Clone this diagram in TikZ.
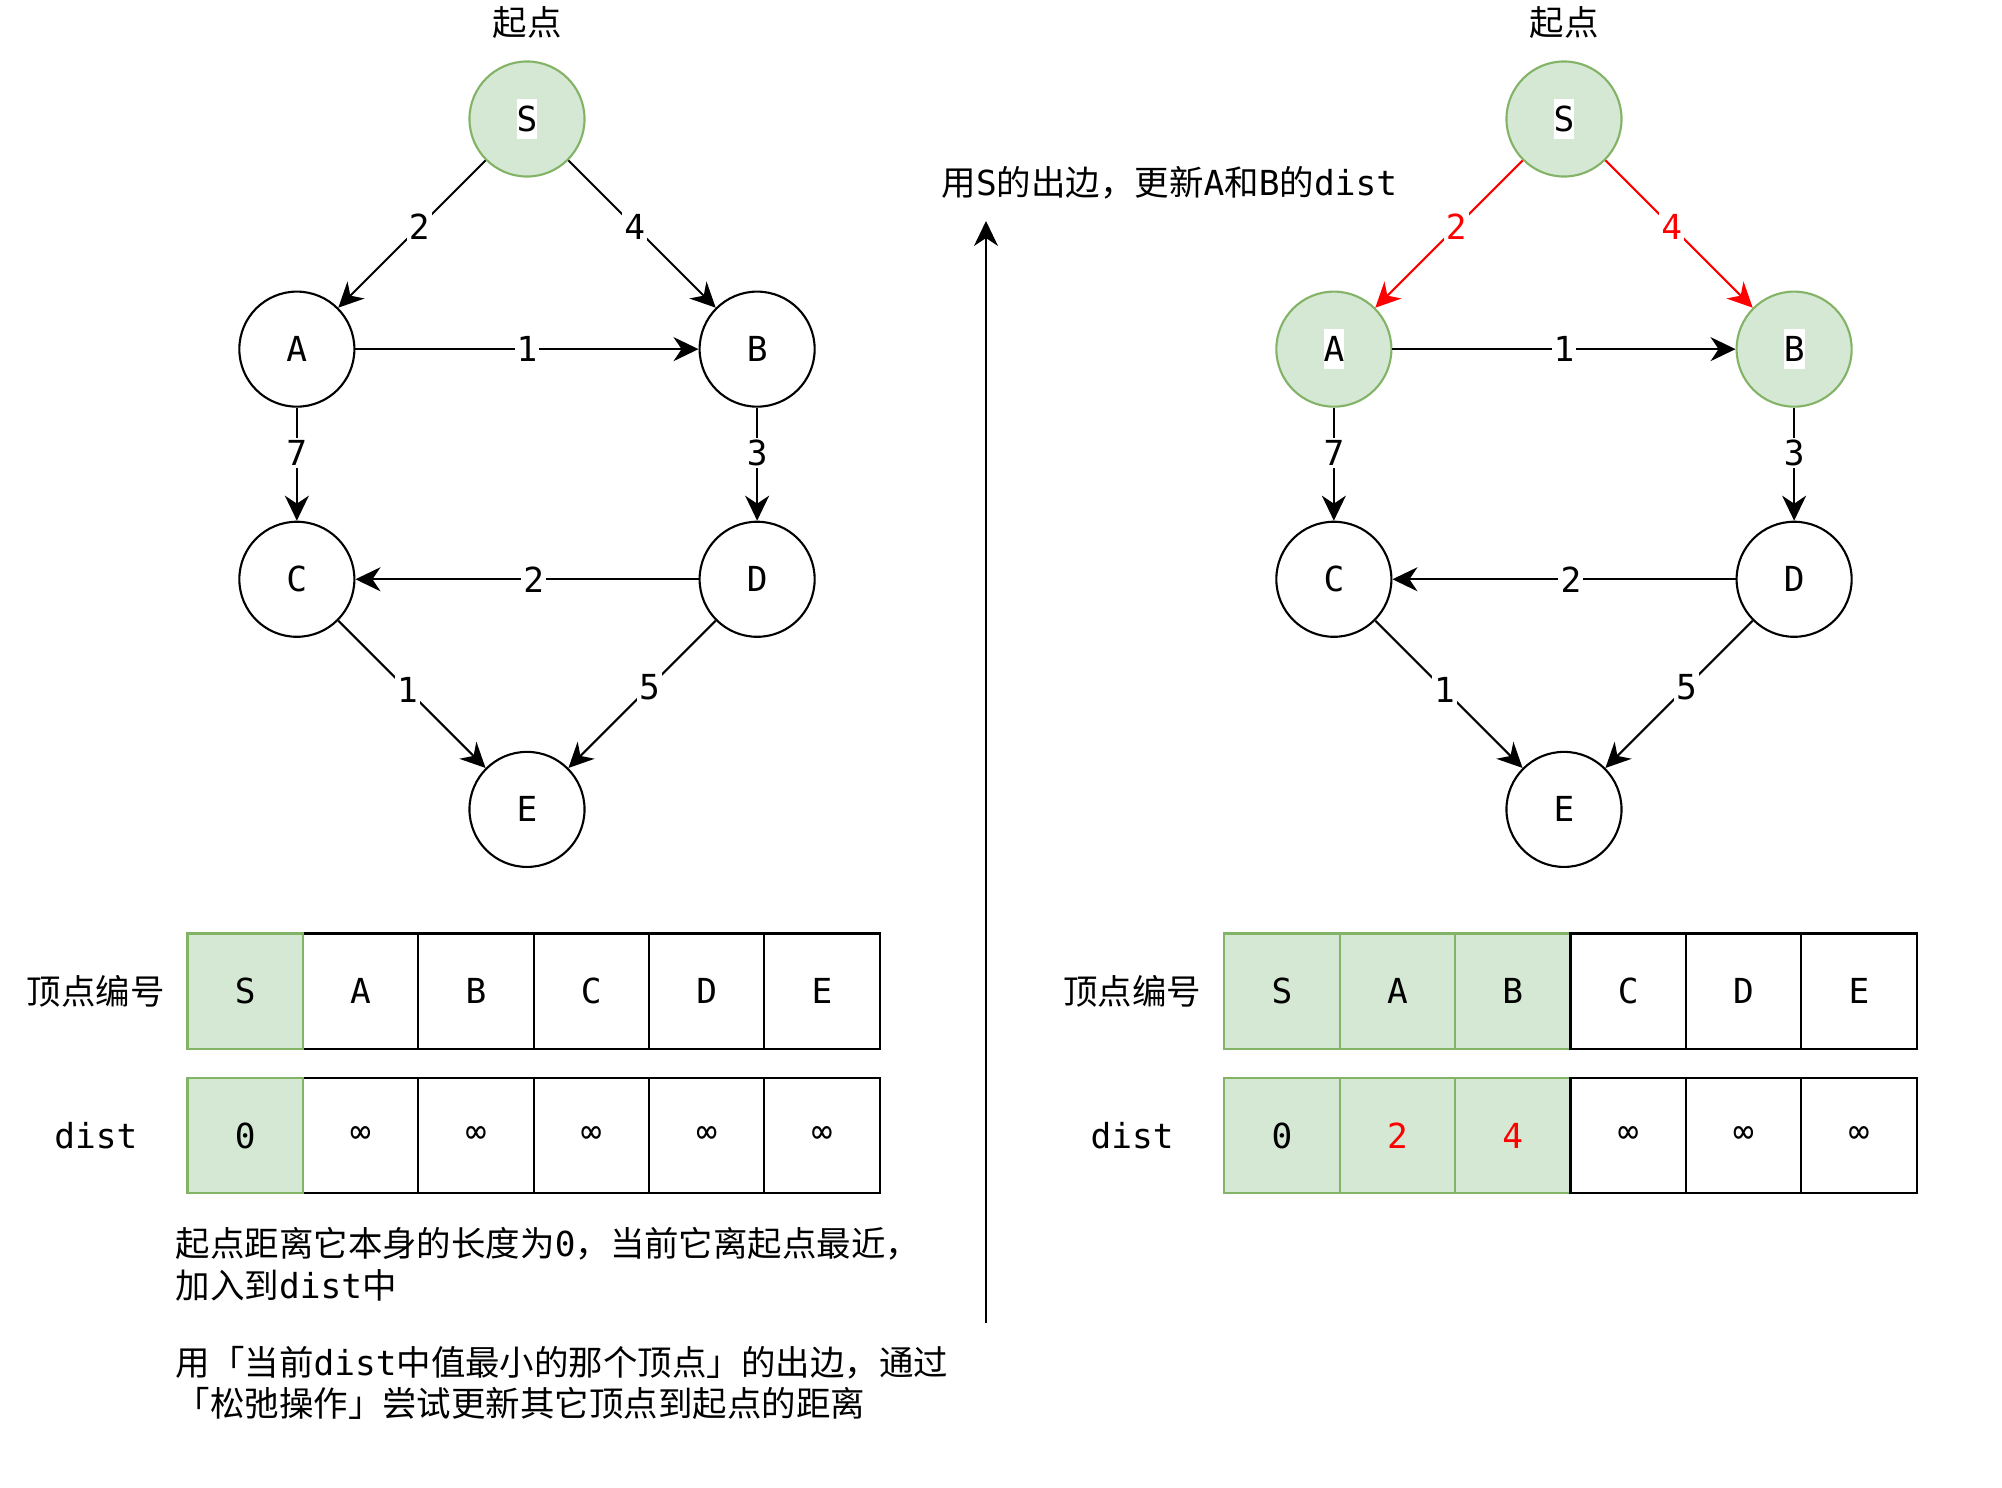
\documentclass[tikz,border=0pt]{standalone}
\usepackage{fontspec}
\setmainfont{Noto Sans CJK SC}
\setmonofont{DejaVu Sans Mono}
\usepackage{tikz}
\usetikzlibrary{arrows.meta,positioning}
\usepackage{xcolor}
\definecolor{seengreen}{HTML}{D5E8D4}
\definecolor{seenborder}{HTML}{82B366}
\definecolor{relaxred}{HTML}{FF0000}
\newcommand{\mtt}[1]{{\ttfamily #1}}
\newcommand{\wbox}[1]{{\setlength{\fboxsep}{0pt}\colorbox{white}{\rule[-2.1pt]{0pt}{11.4pt}#1}}}
\tikzset{
  vertex/.style={
    circle,
    draw=black,
    fill=white,
    line width=0.6pt,
    minimum size=1.15cm,
    inner sep=0pt,
    font=\ttfamily
  },
  visited/.style={
    vertex,
    draw=seenborder,
    fill=seengreen
  },
  link/.style={
    -{Stealth[length=2.5mm,width=2.4mm,inset=0.8mm]},
    line width=0.6pt
  },
  relaxlink/.style={
    link,
    draw=relaxred
  },
  wlabel/.style={
    fill=white,
    inner sep=0.6pt,
    font=\ttfamily
  },
  cell/.style={
    draw=black,
    line width=0.6pt,
    minimum size=1.153cm,
    inner sep=0pt,
    outer sep=0pt,
    font=\ttfamily
  },
  donecell/.style={
    cell,
    draw=seenborder,
    fill=seengreen
  },
  note/.style={
    anchor=west,
    inner sep=0pt
  }
}

\begin{document}
\fontsize{9.8pt}{12pt}\selectfont
\begin{tikzpicture}[x=0.01cm, y=-0.01cm, on grid, node distance=2.3cm]
\useasboundingbox (0,0) rectangle (2002,1488);

% left graph, before relaxing
\node[visited] (sL) at (527,119) {\wbox{S}};
\node[above=0.96cm of sL] (startL) {起点};
\node[vertex, below left=2.3cm and 2.3cm of sL] (aL) {A};
\node[vertex, below right=2.3cm and 2.3cm of sL] (bL) {B};
\node[vertex, below=2.3cm of aL] (cL) {C};
\node[vertex, below=2.3cm of bL] (dL) {D};
\node[vertex, below right=2.3cm and 2.3cm of cL] (eL) {E};
\draw[link] (sL) -- node[wlabel, pos=0.45] {2} (aL);
\draw[link] (sL) -- node[wlabel, pos=0.45] {4} (bL);
\draw[link] (aL) -- node[wlabel] {1} (bL);
\draw[link] (aL) -- node[wlabel, pos=0.4] {7} (cL);
\draw[link] (bL) -- node[wlabel, pos=0.4] {3} (dL);
\draw[link] (dL) -- node[wlabel, pos=0.48] {2} (cL);
\draw[link] (cL) -- node[wlabel, pos=0.47] {1} (eL);
\draw[link] (dL) -- node[wlabel, pos=0.45] {5} (eL);

% left table
\node (idL) at (95.8,991.2) {顶点编号};
\node (distL) at (95.8,1135.5) {\mtt{dist}};
\node[cell] (taL) at (360.6,991.2) {A};
\node[donecell, left=1.153cm of taL] (tsL) {S};
\node[cell, right=1.153cm of taL] (tbL) {B};
\node[cell, right=1.153cm of tbL] (tcL) {C};
\node[cell, right=1.153cm of tcL] (tdL) {D};
\node[cell, right=1.153cm of tdL] (teL) {E};
\node[cell] (vaL) at (360.6,1135.5) {∞};
\node[donecell, left=1.153cm of vaL] (vsL) {0};
\node[cell, right=1.153cm of vaL] (vbL) {∞};
\node[cell, right=1.153cm of vbL] (vcL) {∞};
\node[cell, right=1.153cm of vcL] (vdL) {∞};
\node[cell, right=1.153cm of vdL] (veL) {∞};

\node[note] (noteA1) at (175,1243.6) {起点距离它本身的长度为\mtt{0}，当前它离起点最近，};
\node[note] (noteA2) at (175,1285.7) {加入到\mtt{dist}中};
\node[note] (noteB1) at (175,1362.3) {用「当前\mtt{dist}中值最小的那个顶点」的出边，通过};
\node[note] (noteB2) at (175,1403.2) {「松弛操作」尝试更新其它顶点到起点的距离};

% step arrow
\coordinate (stepbot) at (986,1323);
\coordinate (steptop) at (986,221);
\draw[link] (stepbot) -- (steptop);
\node[note] (stepmsg) at (941,182.6) {用\mtt{S}的出边，更新\mtt{A}和\mtt{B}的\mtt{dist}};

% right graph, after relaxing S
\node[visited] (sR) at (1564,119) {\wbox{S}};
\node[above=0.96cm of sR] (startR) {起点};
\node[visited, below left=2.3cm and 2.3cm of sR] (aR) {\wbox{A}};
\node[visited, below right=2.3cm and 2.3cm of sR] (bR) {\wbox{B}};
\node[vertex, below=2.3cm of aR] (cR) {C};
\node[vertex, below=2.3cm of bR] (dR) {D};
\node[vertex, below right=2.3cm and 2.3cm of cR] (eR) {E};
\draw[relaxlink] (sR) -- node[wlabel, pos=0.45, text=relaxred] {2} (aR);
\draw[relaxlink] (sR) -- node[wlabel, pos=0.45, text=relaxred] {4} (bR);
\draw[link] (aR) -- node[wlabel] {1} (bR);
\draw[link] (aR) -- node[wlabel, pos=0.4] {7} (cR);
\draw[link] (bR) -- node[wlabel, pos=0.4] {3} (dR);
\draw[link] (dR) -- node[wlabel, pos=0.48] {2} (cR);
\draw[link] (cR) -- node[wlabel, pos=0.47] {1} (eR);
\draw[link] (dR) -- node[wlabel, pos=0.45] {5} (eR);

% right table
\node (idR) at (1132,991.2) {顶点编号};
\node (distR) at (1132,1135.5) {\mtt{dist}};
\node[donecell] (tsR) at (1282.1,991.2) {S};
\node[donecell, right=1.153cm of tsR] (taR) {A};
\node[donecell, right=1.153cm of taR] (tbR) {B};
\node[cell, right=1.153cm of tbR] (tcR) {C};
\node[cell, right=1.153cm of tcR] (tdR) {D};
\node[cell, right=1.153cm of tdR] (teR) {E};
\node[donecell] (vsR) at (1282.1,1135.5) {0};
\node[donecell, right=1.153cm of vsR, text=relaxred] (vaR) {2};
\node[donecell, right=1.153cm of vaR, text=relaxred] (vbR) {4};
\node[cell, right=1.153cm of vbR] (vcR) {∞};
\node[cell, right=1.153cm of vcR] (vdR) {∞};
\node[cell, right=1.153cm of vdR] (veR) {∞};
\end{tikzpicture}
\end{document}
